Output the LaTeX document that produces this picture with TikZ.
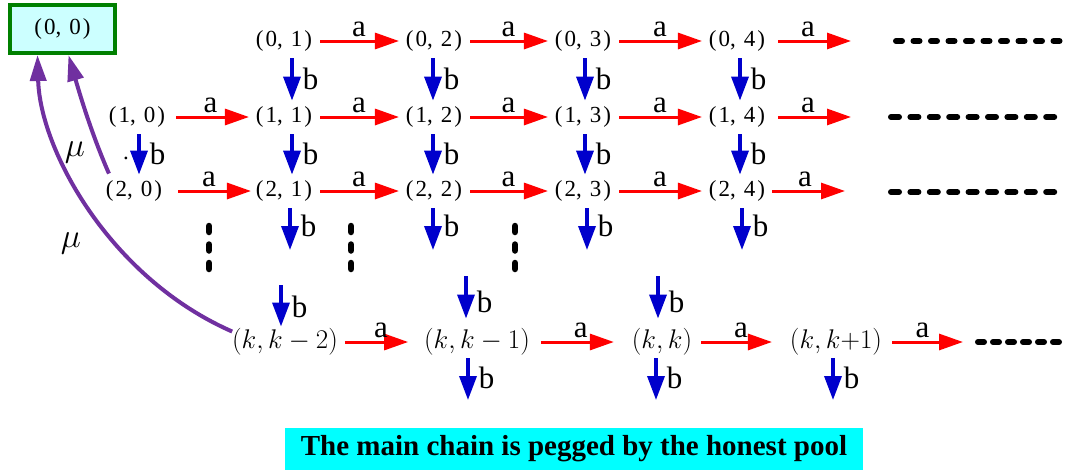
\RequirePackage{fix-cm}
\documentclass[tikz,border=0pt]{standalone}
\usepackage{fontspec}
\setmainfont{Liberation Serif}
\usetikzlibrary{arrows.meta}
\definecolor{cred}{HTML}{FF0000}
\definecolor{cblue}{HTML}{0000CC}
\definecolor{cpurple}{HTML}{7030A0}
\definecolor{cgreen}{HTML}{008000}
\definecolor{cboxfill}{HTML}{CCFFFF}
\definecolor{ccap}{HTML}{00FFFF}
\newcommand{\pairtxt}[2]{(\hspace{2pt}#1,\hspace{8pt}#2\hspace{2pt})}
\begin{document}
\begin{tikzpicture}[x=1pt,y=-1pt,
 pair/.style={inner sep=0pt,outer sep=0pt,font=\fontsize{23}{27}\selectfont},
 kpair/.style={inner sep=0pt,outer sep=0pt,font=\fontsize{27}{31}\selectfont},
 ra/.style={draw=cred,line width=3pt,-{Triangle[length=24pt,width=16pt]},shorten <=8pt,shorten >=7pt},
 ba/.style={draw=cblue,line width=3.5pt,-{Triangle[length=24pt,width=17pt]}},
 bb/.style={ba,shorten <=7pt,shorten >=6pt},
 alab/.style={midway,above=3pt,inner sep=0pt,font=\fontsize{31}{35}\selectfont},
 blab/.style={midway,right=9pt,inner sep=0pt,font=\fontsize{31}{35}\selectfont},
 mu/.style={draw=cpurple,line width=4pt,-{Triangle[length=26pt,width=16pt]}},
 mulab/.style={inner sep=0pt,font=\fontsize{34}{38}\selectfont},
 hdots/.style={line width=6pt,line cap=round},
 ]
\useasboundingbox (0,0) rectangle (1065,471);

% start state box
\node[draw=cgreen,line width=4pt,fill=cboxfill,minimum width=105pt,minimum height=48pt,
      inner sep=0pt,outer sep=0pt,font=\fontsize{23}{27}\selectfont] (n00) at (62.5,29) {\pairtxt{0}{0}};

% grid nodes
\node[pair] (n01) at (284,41) {\pairtxt{0}{1}};
\node[pair] (n02) at (434,41) {\pairtxt{0}{2}};
\node[pair] (n03) at (583,41) {\pairtxt{0}{3}};
\node[pair] (n04) at (737,41) {\pairtxt{0}{4}};

\node[pair] (n10) at (137,117) {\pairtxt{1}{0}};
\node[pair] (n11) at (284,117) {\pairtxt{1}{1}};
\node[pair] (n12) at (434,117) {\pairtxt{1}{2}};
\node[pair] (n13) at (583,117) {\pairtxt{1}{3}};
\node[pair] (n14) at (737,117) {\pairtxt{1}{4}};

\node[pair] (n20) at (134,191) {\pairtxt{2}{0}};
\node[pair] (n21) at (284,191) {\pairtxt{2}{1}};
\node[pair] (n22) at (434,191) {\pairtxt{2}{2}};
\node[pair] (n23) at (583,191) {\pairtxt{2}{3}};
\node[pair] (n24) at (737,191) {\pairtxt{2}{4}};

\node[kpair] (nk2) at (285,342) {$\left(k,k-2\right)$};
\node[kpair] (nk1) at (477,342) {$\left(k,k-1\right)$};
\node[kpair] (nkk) at (662,342) {$\left(k,k\right)$};
\node[kpair] (nkp) at (836,342) {$\left(k,k{+}1\right)$};

% stray dot
\node[pair] (dot) at (126,158) {.};

% free ends
\coordinate (a04) at (851,41);
\coordinate (a14) at (851,117);
\coordinate (a24) at (845,191);
\coordinate (akp) at (963,342);

% a arrows
\draw[ra] (n01) -- node[alab]{a} (n02);
\draw[ra] (n02) -- node[alab]{a} (n03);
\draw[ra] (n03) -- node[alab]{a} (n04);
\draw[ra,shorten <=13pt,shorten >=0pt] (n04) -- node[alab]{a} (a04);

\draw[ra,shorten <=11pt] (n10) -- node[alab]{a} (n11);
\draw[ra] (n11) -- node[alab]{a} (n12);
\draw[ra] (n12) -- node[alab]{a} (n13);
\draw[ra] (n13) -- node[alab]{a} (n14);
\draw[ra,shorten <=13pt,shorten >=0pt] (n14) -- node[alab]{a} (a14);

\draw[ra,shorten <=16pt,shorten >=5pt] (n20) -- node[alab]{a} (n21);
\draw[ra] (n21) -- node[alab]{a} (n22);
\draw[ra] (n22) -- node[alab]{a} (n23);
\draw[ra] (n23) -- node[alab]{a} (n24);
\draw[ra,shorten <=7pt,shorten >=0pt] (n24) -- node[alab]{a} (a24);

\draw[ra,shorten <=7pt,shorten >=16pt] (nk2) -- node[alab]{a} (nk1);
\draw[ra,shorten <=11pt,shorten >=18pt] (nk1) -- node[alab]{a} (nkk);
\draw[ra,shorten <=9pt,shorten >=18pt] (nkk) -- node[alab]{a} (nkp);
\draw[ra,shorten <=10pt,shorten >=0pt] (nkp) -- node[alab]{a} (akp);

% b arrows between rows
\draw[bb] ([xshift=8pt]n01.south) -- node[blab]{b} ([xshift=8pt]n11.north);
\draw[bb] ([xshift=-1pt]n02.south) -- node[blab]{b} ([xshift=-1pt]n12.north);
\draw[bb] ([xshift=2pt]n03.south) -- node[blab]{b} ([xshift=2pt]n13.north);
\draw[bb] ([xshift=3pt]n04.south) -- node[blab]{b} ([xshift=3pt]n14.north);

\draw[bb] ([xshift=2pt]n10.south) -- node[blab]{b} ([xshift=5pt]n20.north);
\draw[bb] ([xshift=8pt]n11.south) -- node[blab]{b} ([xshift=8pt]n21.north);
\draw[bb] ([xshift=-1pt]n12.south) -- node[blab]{b} ([xshift=-1pt]n22.north);
\draw[bb] ([xshift=2pt]n13.south) -- node[blab]{b} ([xshift=2pt]n23.north);
\draw[bb] ([xshift=3pt]n14.south) -- node[blab]{b} ([xshift=3pt]n24.north);

% b arrows leaving row 2
\coordinate (d21) at (290,250);
\coordinate (d22) at (433,250);
\coordinate (d23) at (587,250);
\coordinate (d24) at (742,250);
\draw[ba,shorten <=7pt] (d21 |- n21.south) -- node[blab]{b} (d21);
\draw[ba,shorten <=7pt] (d22 |- n22.south) -- node[blab]{b} (d22);
\draw[ba,shorten <=7pt] (d23 |- n23.south) -- node[blab]{b} (d23);
\draw[ba,shorten <=7pt] (d24 |- n24.south) -- node[blab]{b} (d24);

% b arrows into row k
\coordinate (uk2) at (281,285);
\coordinate (uk1) at (466,276);
\coordinate (ukk) at (658,276);
\draw[ba,shorten >=2pt] (uk2) -- node[blab]{b} (uk2 |- nk2.north);
\draw[ba,shorten >=10pt] (uk1) -- node[blab]{b} (uk1 |- nk1.north);
\draw[ba,shorten >=10pt] (ukk) -- node[blab]{b} (ukk |- nkk.north);

% b arrows leaving row k
\coordinate (lk1) at (468,400);
\coordinate (lkk) at (656,400);
\coordinate (lkp) at (833,400);
\draw[ba,shorten <=3pt] (lk1 |- nk1.south) -- node[blab]{b} (lk1);
\draw[ba,shorten <=3pt] (lkk |- nkk.south) -- node[blab]{b} (lkk);
\draw[ba,shorten <=3pt] (lkp |- nkp.south) -- node[blab]{b} (lkp);

% continuation dashes
\coordinate (h0a) at (896,41);  \coordinate (h0b) at (1059.5,41);
\coordinate (h1a) at (891,117); \coordinate (h1b) at (1054.2,117);
\coordinate (h2a) at (891,192); \coordinate (h2b) at (1054.2,192);
\coordinate (hka) at (978,342); \coordinate (hkb) at (1059,342);
\draw[hdots,dash pattern=on 6pt off 11.5pt] (h0a) -- (h0b);
\draw[hdots,dash pattern=on 8pt off 11.4pt] (h1a) -- (h1b);
\draw[hdots,dash pattern=on 8pt off 11.4pt] (h2a) -- (h2b);
\draw[hdots,dash pattern=on 6pt off 9pt] (hka) -- (hkb);

% vertical dots
\coordinate (v1a) at (209,226); \coordinate (v1b) at (209,269);
\coordinate (v2a) at (351,226); \coordinate (v2b) at (351,269);
\coordinate (v3a) at (515,226); \coordinate (v3b) at (515,269);
\draw[hdots,line width=6.5pt,dash pattern=on 6pt off 12.5pt] (v1a) -- (v1b);
\draw[hdots,line width=6.5pt,dash pattern=on 6pt off 12.5pt] (v2a) -- (v2b);
\draw[hdots,line width=6.5pt,dash pattern=on 6pt off 12.5pt] (v3a) -- (v3b);

% mu transitions back to (0,0)
\draw[mu] ([xshift=3pt,yshift=7pt]n20.north west) .. controls (92,135) and (80,95) .. ([xshift=6pt,yshift=-2pt]n00.south);
\draw[mu] ([yshift=-3pt]nk2.north west) .. controls (110,278) and (40,150) .. ([xshift=-25pt,yshift=-2pt]n00.south);
\node[mulab] (mu1) at (75,152) {$\mu$};
\node[mulab] (mu2) at (71,243) {$\mu$};

% caption
\node[fill=ccap,minimum width=578pt,minimum height=42pt,inner sep=0pt,
      font=\bfseries\fontsize{29}{32}\selectfont] (cap) at (574,449) {The main chain is pegged by the honest pool};
\end{tikzpicture}
\end{document}
